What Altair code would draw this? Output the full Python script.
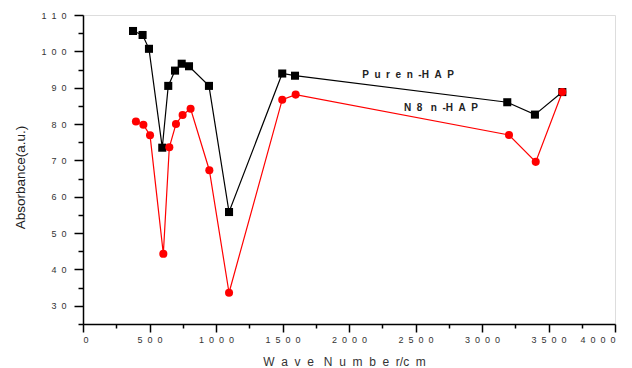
import altair as alt
import pandas as pd

wave_pure = [376, 448, 496, 596, 641, 692, 742, 797, 947, 1098, 1498, 1594, 3190, 3398, 3604]
abs_pure = [105.6, 104.5, 100.7, 73.5, 90.5, 94.7, 96.6, 95.9, 90.5, 55.8, 93.9, 93.3, 86.0, 82.6, 88.8]
wave_n8 = [398, 454, 504, 604, 649, 699, 749, 809, 950, 1098, 1498, 1599, 3203, 3404, 3604]
abs_n8 = [80.7, 79.8, 76.9, 44.3, 73.6, 80.0, 82.5, 84.2, 67.3, 33.6, 86.7, 88.1, 77.0, 69.6, 88.8]

series_names = ["Pure n-HAP", "N8 n-HAP"]
series_colors = ["#000000", "#ff0000"]
series_shapes = ["square", "circle"]

NB = "\u00a0"
G = NB * 2
label_texts = [G.join("Pure") + G + "n" + G + "-" + G.join("HAP"),
               "N" + G + "8" + G + NB + "n" + G + "-" + G.join("HAP")]
label_x = [2444, 2692]
label_y = [93.4, 84.3]

x_major = list(range(0, 4001, 500))
x_minor = list(range(250, 4001, 500))
y_major = list(range(30, 111, 10))
y_minor = list(range(25, 111, 10))

x_title = G.join("Wave") + G + NB + G.join("Number") + "/" + G.join("cm")

df = pd.DataFrame({
    "wave": wave_pure + wave_n8,
    "absorb": abs_pure + abs_n8,
    "series": [series_names[0]] * len(wave_pure) + [series_names[1]] * len(wave_n8),
})
lab = pd.DataFrame({"text": label_texts, "wave": label_x, "absorb": label_y})

FONT = "Liberation Sans"

xscale = alt.Scale(domain=[0, 4000], nice=False, zero=False)
yscale = alt.Scale(domain=[25, 110], nice=False, zero=False)

spaced = "join(split(datum.label, ''), '\u00a0\u00a0')"

xaxis = alt.Axis(
    values=x_major, format="d", labelOverlap=False, grid=False, tickSize=8,
    labelExpr=spaced, orient="bottom",
    domainColor="black", tickColor="black", domainWidth=1.5, tickWidth=1.5,
    labelFont=FONT, labelFontSize=9, labelColor="#333", labelPadding=3,
    title=x_title, titleFont=FONT, titleFontSize=12,
    titleFontWeight="normal", titleColor="#333", titleX=261, titleY=37,
    titleBaseline="middle", titleAlign="center",
)
yaxis = alt.Axis(
    values=y_major, format="d", labelOverlap=False, grid=False, tickSize=9,
    labelExpr=spaced, orient="left",
    domainColor="black", tickColor="black", domainWidth=1.5, tickWidth=1.5,
    labelFont=FONT, labelFontSize=9, labelColor="#333", labelPadding=8,
    title="Absorbance(a.u.)", titleFont=FONT, titleFontSize=13.5,
    titleFontWeight="normal", titleColor="#222", titleX=-63, titleY=162,
    titleAngle=-90, titleBaseline="middle", titleAlign="center",
)
xaxis_minor = alt.Axis(values=x_minor, orient="bottom", labels=False, domain=False, grid=False,
                       tickSize=4, tickColor="black", tickWidth=1.5, title=None)
yaxis_minor = alt.Axis(values=y_minor, orient="left", labels=False, domain=False, grid=False,
                       tickSize=5, tickColor="black", tickWidth=1.5, title=None)

color = alt.Color("series:N", scale=alt.Scale(domain=series_names, range=series_colors), legend=None)
shape = alt.Shape("series:N", scale=alt.Scale(domain=series_names, range=series_shapes), legend=None)

base = alt.Chart(df).encode(
    x=alt.X("wave:Q", scale=xscale, axis=xaxis),
    y=alt.Y("absorb:Q", scale=yscale, axis=yaxis),
    color=color,
)

lines = base.mark_line(strokeWidth=1.2).encode(
    detail="series:N",
    order=alt.Order("wave:Q"),
)
points = base.mark_point(filled=True, opacity=1, size=65).encode(shape=shape)

texts = alt.Chart(lab).mark_text(font=FONT, fontSize=10, fontWeight="bold", color="#222").encode(
    x=alt.X("wave:Q", scale=xscale, axis=xaxis),
    y=alt.Y("absorb:Q", scale=yscale, axis=yaxis),
    text="text:N",
)

major = alt.layer(lines, points, texts)

minor = alt.Chart(df).mark_point(opacity=0).encode(
    x=alt.X("wave:Q", scale=xscale, axis=xaxis_minor),
    y=alt.Y("absorb:Q", scale=yscale, axis=yaxis_minor),
)

chart = alt.layer(major, minor).resolve_axis(x="independent", y="independent").properties(
    width=532, height=309,
    autosize=alt.AutoSizeParams(type="none"),
    padding={"left": 83, "top": 15, "right": 17, "bottom": 44},
).configure_view(stroke=None).configure(background="white")

chart.save("out.html", embed_options={"renderer": "svg", "actions": False})
